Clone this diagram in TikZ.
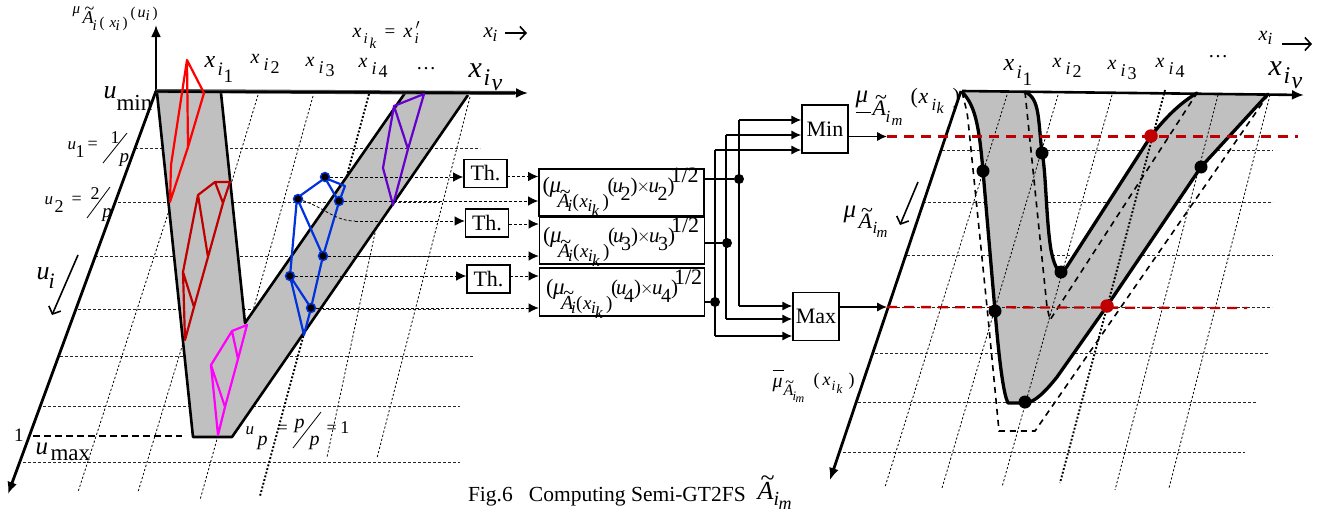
\documentclass[tikz,border=0pt]{standalone}
\usepackage{fontspec}
\setmainfont{Liberation Serif}
\usetikzlibrary{arrows.meta}
\DeclareSymbolFont{letters}{TU}{\rmdefault}{m}{it}
\definecolor{fou}{RGB}{192,192,192}
\definecolor{cred}{RGB}{255,0,0}
\definecolor{cdred}{RGB}{192,0,0}
\definecolor{cmag}{RGB}{255,0,255}
\definecolor{cblue}{RGB}{0,51,221}
\definecolor{cpur}{RGB}{102,0,204}
% a piece of text placed at a kern and a raise, in the given size
\newcommand\cp[4]{\rlap{\kern#2pt\raisebox{#3pt}{\fontsize{#1}{#1}\selectfont #4}}}
\newcommand\At{\rlap{\kern.12em\raisebox{.47em}{\char"7E}}$A$}
\newcommand\xgen[8]{\cp{#1}{0}{0}{$x$}\cp{#2}{#4}{#5}{$i$}\cp{#2}{#6}{#7}{#3}#8}
\newcommand\xA[1]{\xgen{24}{19}{#1}{13}{-8}{19}{-15}{}}
\newcommand\xB[1]{\xgen{20}{18}{#1}{13}{-7}{20}{-10}{}}
\newcommand\xC[1]{\xgen{30}{24}{$#1$}{15}{-8}{23}{-13}{}}
\newcommand\calcbody[3]{\raisebox{0pt}[0pt][0pt]{\makebox[164pt][l]{%
 \kern#2pt%
 \cp{22}{3}{#3}{(}\cp{23}{10}{#3}{\textit{μ}}%
 \cp{20}{18}{\numexpr#3-15\relax}{\At}\cp{17}{28}{\numexpr#3-19\relax}{$i$}%
 \cp{19}{33}{\numexpr#3-15\relax}{(}\cp{19}{40}{\numexpr#3-15\relax}{$x$}%
 \cp{17}{48}{\numexpr#3-19\relax}{$i$}\cp{17}{52}{\numexpr#3-24\relax}{$k$}%
 \cp{19}{63}{\numexpr#3-15\relax}{)}%
 \cp{21}{68}{#3}{(}\cp{21}{73}{#3}{$u$}\cp{20}{81}{\numexpr#3-8\relax}{#1}\cp{21}{91}{#3}{)}%
 \cp{16}{97}{\numexpr#3+1\relax}{$\times$}\cp{21}{109}{#3}{$u$}\cp{20}{118}{\numexpr#3-8\relax}{#1}\cp{21}{128}{#3}{)}%
 \cp{22}{131}{\numexpr#3+10\relax}{1/2}%
}}}
\tikzset{
 grid/.style={line width=0.8pt,dash pattern=on 3pt off 2pt,black!85},
 slant/.style={line width=0.8pt,dash pattern=on 2.2pt off 2pt,black},
 bolddot/.style={line width=1.9pt,dash pattern=on 1.9pt off 1.9pt,black},
 heavy/.style={line width=2.6pt,line join=round,black},
 thick outline/.style={line width=3.3pt,line cap=round,line join=round,black},
 copydash/.style={line width=1.6pt,dash pattern=on 6pt off 5pt,black},
 reddash/.style={line width=2.3pt,dash pattern=on 10pt off 7pt,cdred},
 poly/.style={line width=2.2pt,line join=round},
 wire/.style={line width=1.7pt,black},
 feed/.style={line width=0.8pt,dash pattern=on 3pt off 2pt,black},
 tip/.style={-{Latex[length=10pt,width=9.5pt]}},
 barb/.style={line width=1.6pt,-{Straight Barb[length=6pt,width=13pt]}},
 axis tip/.style={-{Latex[length=12pt,width=10pt]}},
 tbox/.style={draw,line width=1.6pt,minimum width=43pt,minimum height=28pt,inner sep=0pt,font=\fontsize{22}{22}\selectfont,fill=white},
 mbox/.style={draw,line width=1.5pt,minimum width=46pt,minimum height=48pt,inner sep=0pt,font=\fontsize{22}{22}\selectfont,fill=white},
 cbox/.style={draw,line width=1.7pt,minimum width=165pt,inner sep=0pt,align=left},
 lab/.style={anchor=base west,inner sep=0pt,outer sep=0pt},
 bdot/.style={circle,draw=cblue,fill=black,line width=1.4pt,minimum size=9pt,inner sep=0pt},
 kdot/.style={circle,fill=black,minimum size=13pt,inner sep=0pt},
 rdot/.style={circle,fill=cdred,minimum size=13.5pt,inner sep=0pt},
 jdot/.style={circle,fill=black,minimum size=10pt,inner sep=0pt},
}
\begin{document}
\begin{tikzpicture}[x=1pt,y=-1pt]
\useasboundingbox (0,0) rectangle (1325,514);
% ---------- left panel grid (under the band)
\foreach \xa/\xb/\yy in {135/480/148,118/440/202,95/440/256,78/440/309,60/473/356,43/460/406,23/460/462}
  \draw[grid] (\xa,\yy) -- (\xb,\yy);
\draw[slant] (207,93) -- (78,492);
\draw[slant] (258,95) -- (138,492);
\draw[slant] (313,96) -- (200,500);
\draw[bolddot] (369,94) -- (260,496);
\draw[slant] (405,93) -- (327,457);
\draw[slant] (470,97) -- (377,458);
% band
\fill[fou] (157,93) -- (221,93) -- (245,323) -- (405,93) -- (468,93) -- (232,437) -- (193,437) -- cycle;
\draw[grid] (330,148) -- (480,148);
\draw[heavy] (157,93) -- (193,437) -- (232,437) -- (468,95);
\draw[heavy] (221,93) -- (245,323) -- (405,93);
\draw[line width=1.4pt,dash pattern=on 7pt off 4pt] (33,436) -- (182,436);
% axes
\draw[line width=2.2pt,axis tip] (156,92) -- (156,25);
\draw[line width=2.8pt,axis tip] (156,91) -- (8,494);
\draw[line width=4pt,black!65] (156,91) -- (515,93);
\draw[line width=2.4pt,axis tip] (156,91.5) -- (528,93);
\draw[barb] (78,255) -- (52,315);
\draw[barb] (505,33) -- (527,33);
% polygons
\draw[poly,cred] (187,60) -- (204,93) -- (188,147) -- (170,202) -- (171,165) -- cycle (187,60) -- (188,147);
\draw[poly,cdred] (230,182) -- (223,203) -- (208,257) -- (194,307) -- (185,340) -- (183,272) -- (198,195) -- (215,182) -- cycle
  (215,182) -- (223,203) (198,195) -- (208,257) (183,272) -- (194,307);
\draw[poly,cmag] (247,325) -- (238,359) -- (225,407) -- (218,435) -- (211,365) -- (232,331) -- cycle
  (232,331) -- (238,359) (211,365) -- (225,407);
\draw[poly,cpur] (424,94) -- (408,149) -- (393,205) -- (383,168) -- (394,106) -- cycle (394,106) -- (408,149);
\draw[poly,cblue] (297,198) -- (325,178) -- (345,186) -- (339,202) -- (323,256) -- (311,308) -- (304,335) -- (290,276) -- cycle
  (325,178) -- (339,202) (297,198) -- (323,256) (290,276) -- (311,308);
\node[bdot] (p1) at (325,177) {};
\node[bdot] (p2) at (298,199) {};
\node[bdot] (p3) at (339,201) {};
\node[bdot] (p4) at (323,256) {};
\node[bdot] (p5) at (290,276) {};
\node[bdot] (p6) at (311,308) {};
% ---------- middle blocks
\node[tbox] (th1) at (485.5,173.5) {Th.};
\node[tbox] (th2) at (487,223) {Th.};
\node[tbox] (th3) at (488.5,279) {Th.};
\node[cbox,minimum height=47pt] (c1) at (621.5,192.5) {\calcbody{2}{0}{0}};
\node[cbox,minimum height=47pt] (c2) at (622,240.75) {\calcbody{3}{0}{-2}};
\node[cbox,minimum height=48pt] (c3) at (622,292) {\calcbody{4}{3}{-2}};
\node[mbox] (min) at (825,129) {Min};
\node[mbox] (max) at (816,316.5) {Max};
\coordinate (k2) at (355,221);
\draw[feed,tip] (p1) -- (p1 -| th1.west);
\draw[feed] (p2) .. controls (325,208) and (335,221) .. (k2);
\draw[feed,tip] (k2) -- (k2 -| th2.west);
\draw[feed,tip] (p5) -- (p5 -| th3.west);
\draw[feed,tip] (p3) -- (p3 -| c1.west);
\draw[feed,tip] (p4) -- (p4 -| c2.west);
\draw[feed,tip] (p6) -- (p6 -| c3.west);
\coordinate (t1) at (507,176.5); \coordinate (t2) at (509,224); \coordinate (t3) at (510,276);
\draw[feed,tip] (t1) -- (t1 -| c1.west);
\draw[feed,tip] (t2) -- (t2 -| c2.west);
\draw[feed,tip] (t3) -- (t3 -| c3.west);
% junctions
\node[jdot] (j1) at (739,179) {};
\node[jdot] (j2) at (727,243) {};
\node[jdot] (j3) at (715,302) {};
\coordinate (a1) at (739,120); \coordinate (b1) at (739,306);
\coordinate (a2) at (726,135); \coordinate (b2) at (726,319);
\coordinate (a3) at (715,150); \coordinate (b3) at (715,336);
\draw[wire] (c1.east |- j1) -- (j1);
\draw[wire] (c2.east |- j2) -- (j2);
\draw[wire] (c3.east |- j3) -- (j3);
\draw[wire] (a1) -- (b1);
\draw[wire] (a2) -- (b2);
\draw[wire] (a3) -- (b3);
\draw[wire,tip] (a1) -- (a1 -| min.west);
\draw[wire,tip] (a2) -- (a2 -| min.west);
\draw[wire,tip] (a3) -- (a3 -| min.west);
\draw[wire,tip] (b1) -- (b1 -| max.west);
\draw[wire,tip] (b2) -- (b2 -| max.west);
\draw[wire,tip] (b3) -- (b3 -| max.west);
\coordinate (r1) at (887,136.5); \coordinate (r2) at (887,307);
\draw[wire,tip] (r1 -| min.east) -- (r1);
\draw[wire,tip] (r2 -| max.east) -- (r2);
% ---------- right panel
\foreach \xa/\xb/\yy in {942/1273/150,923/1273/202,907/1273/255,875/1268/353,858/1257/402,843/1245/452}
  \draw[grid] (\xa,\yy) -- (\xb,\yy);
\fill[fou] (962,92) .. controls (975,105) and (979,125) .. (983,171) -- (995,311)
  .. controls (1000,370) and (1004,395) .. (1008,403) -- (1025,403)
  .. controls (1034,403) and (1045,392) .. (1057,377) -- (1107,306) -- (1201,167) -- (1268,94) -- (1197,93)
  .. controls (1180,103) and (1165,118) .. (1151,136) -- (1066,268)
  .. controls (1060,276) and (1055,270) .. (1051,250) .. controls (1046,220) and (1046,170) .. (1042,153)
  .. controls (1038,120) and (1040,98) .. (1025,92) -- cycle;
\draw[grid] (887,307) -- (1272,307);
\draw[slant] (1007,95) -- (885,487);
\draw[slant] (1058,95) -- (942,488);
\draw[slant] (1112,95) -- (1002,487);
\draw[bolddot] (1165,90) -- (1060,483);
\draw[slant] (1218,95) -- (1115,490);
\draw[slant] (1270,95) -- (1169,488);
\draw[copydash] (962,92) .. controls (965,105) and (967,110) .. (968,120) -- (987,307) -- (999,431) -- (1035,431) -- (1268,95);
\draw[copydash] (1025,92) -- (1047,307) -- (1050,320) -- (1197,93);
\draw[thick outline] (962,92) .. controls (975,105) and (979,125) .. (983,171) -- (995,311)
  .. controls (1000,370) and (1004,395) .. (1008,403) -- (1025,403)
  .. controls (1034,403) and (1045,392) .. (1057,377) -- (1107,306) -- (1201,167) -- (1268,94);
\draw[thick outline] (1025,92) .. controls (1040,98) and (1038,120) .. (1042,153)
  .. controls (1046,170) and (1046,220) .. (1051,250) .. controls (1055,270) and (1060,276) .. (1066,268)
  -- (1151,136) .. controls (1165,118) and (1180,103) .. (1197,93);
\draw[line width=2.8pt,axis tip] (961,91) -- (830,480);
\draw[line width=2.6pt,axis tip] (962,91) -- (1304,95);
\draw[barb] (918,182) -- (900,225);
\draw[barb] (1282,44) -- (1312,44);
\draw[reddash] (r1) -- (1298,136.5);
\draw[reddash] (r2) -- (1247,308);
\node[kdot] (q1) at (983,171) {};
\node[kdot] (q2) at (1042,153) {};
\node[kdot] (q3) at (1201,167) {};
\node[kdot] (q4) at (1061,272) {};
\node[kdot] (q5) at (995,311) {};
\node[kdot] (q6) at (1025,402) {};
\node[rdot] (q7) at (1151,136) {};
\node[rdot] (q8) at (1107,306) {};
% ---------- labels left
\node[lab] (l01) at (72,13) {\cp{15}{0}{0}{\textit{μ}}\cp{18}{10}{-10}{\At}\cp{15}{20}{-17}{$i$}\cp{15}{27}{-14}{(}\cp{15}{37}{-14}{$x$}\cp{15}{43}{-17}{$i$}\cp{15}{50}{-14}{)}\cp{15}{58}{-4}{(}\cp{16}{65}{-4}{$u$}\cp{15}{73}{-7}{$i$}\cp{15}{80}{-4}{)}};
\node[lab] (l02) at (204,67) {\xA{1}};
\node[lab] (l03) at (250,63) {\xB{2}};
\node[lab] (l04) at (305,66) {\xB{3}};
\node[lab] (l05) at (358,67) {\xB{4}};
\node[lab,font=\fontsize{20}{20}\selectfont] (l06) at (416,69) {…};
\node[lab] (l07) at (468,77) {\xC{v}};
\node[lab] (l08) at (352,37) {\cp{20}{0}{0}{$x$}\cp{15}{11}{-6}{$i$}\cp{15}{17}{-11}{$k$}\cp{19}{32}{0}{=}\cp{20}{51}{0}{$x$}\cp{15}{63}{8}{$\prime$}\cp{15}{62}{-6}{$i$}};
\node[lab] (l09) at (483,37) {\cp{21}{0}{0}{$x$}\cp{17}{9}{-4}{$i$}};
\node[lab] (l10) at (103,98) {\cp{26}{0}{0}{$u$}\cp{23}{13}{-12}{min}};
\node[lab] (l11) at (67,149) {\cp{17}{0}{0}{$u$}\cp{18}{8}{-8}{1}\cp{18}{20}{0}{=}\cp{18}{43}{6}{1}\cp{19}{52}{-13}{$p$}};
\draw[line width=0.8pt] (127,133) -- (103,163);
\node[lab] (l12) at (44,204) {\cp{17}{0}{0}{$u$}\cp{18}{10}{-8}{2}\cp{18}{27}{0}{=}\cp{18}{46}{5}{2}\cp{19}{58}{-13}{$p$}};
\draw[line width=0.8pt] (110,187) -- (87,218);
\node[lab] (l13) at (36,279) {\cp{26}{0}{0}{$u$}\cp{22}{12}{-9}{$i$}};
\node[lab,font=\fontsize{19}{19}\selectfont] (l14) at (14,441) {1};
\node[lab] (l15) at (35,454) {\cp{25}{0}{0}{$u$}\cp{23}{15}{-6}{max}};
\node[lab] (l16) at (245,434) {\cp{17}{0}{0}{$u$}\cp{20}{12}{-11}{$p$}\cp{18}{32}{1}{=}\cp{20}{49}{6}{$p$}\cp{20}{64}{-11}{$p$}\cp{18}{81}{1}{=}\cp{18}{95}{1}{1}};
\draw[line width=0.8pt] (321,412) -- (293,448);
% ---------- labels right
\node[lab] (r01) at (855,102) {\cp{25}{0}{0}{\textit{μ}}\cp{1}{0}{-11}{\rule{15pt}{1pt}}\cp{22}{17}{-13}{\At}\cp{17}{30}{-20}{$i$}\cp{15}{36}{-23}{$m$}};
\node[lab] (r02) at (910,103) {\cp{22}{0}{0}{(}\cp{22}{8}{0}{$x$}\cp{17}{21}{-7}{$i$}\cp{16}{26}{-10}{$k$}\cp{22}{42}{0}{)}};
\node[lab] (r03) at (843,217) {\cp{25}{0}{0}{\textit{μ}}\cp{22}{15}{-11}{\At}\cp{17}{29}{-16}{$i$}\cp{15}{33}{-20}{$m$}};
\node[lab] (r04) at (772,387) {\cp{20}{0}{0}{\textit{μ}}\cp{1}{0}{16}{\rule{11pt}{1pt}}\cp{16}{11}{-8}{\At}\cp{13}{20}{-13}{$i$}\cp{12}{23}{-15}{$m$}};
\node[lab] (r05) at (813,385) {\cp{18}{0}{0}{(}\cp{18}{9}{0}{$x$}\cp{14}{18}{-5}{$i$}\cp{13}{23}{-8}{$k$}\cp{18}{35}{0}{)}};
\node[lab] (r06) at (1003,70) {\xA{1}};
\node[lab] (r07) at (1052,67) {\xB{2}};
\node[lab] (r08) at (1107,69) {\xB{3}};
\node[lab] (r09) at (1155,67) {\xB{4}};
\node[lab,font=\fontsize{20}{20}\selectfont] (r10) at (1208,57) {…};
\node[lab] (r11) at (1268,75) {\xC{v}};
\node[lab] (r12) at (1258,40) {\cp{20}{0}{0}{$x$}\cp{17}{9}{-4}{$i$}};
% caption
\node[lab,font=\fontsize{21.5}{21.5}\selectfont] (cap) at (468,501) {Fig.6\ \ \ Computing Semi-GT2FS};
\node[lab] (cap2) at (757,499) {\cp{26}{0}{0}{\At}\cp{20}{16}{-6}{$i$}\cp{18}{21}{-10}{$m$}};
\end{tikzpicture}
\end{document}
